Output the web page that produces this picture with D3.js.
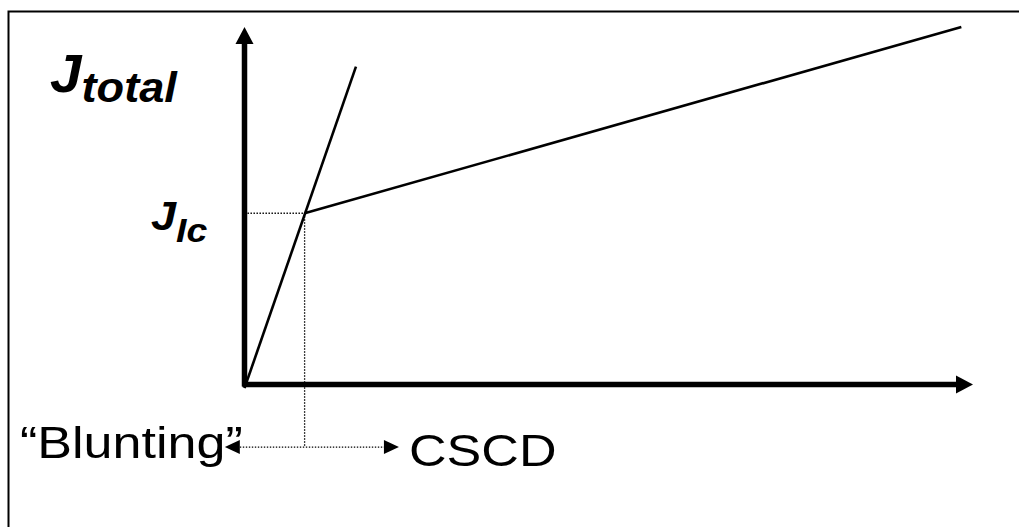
<!DOCTYPE html>
<html>
<head>
<meta charset="utf-8">
<script src="https://cdnjs.cloudflare.com/ajax/libs/d3/7.8.5/d3.min.js"></script>
<style>
  body { margin: 0; background: #fff; }
  svg { display: block; }
  text { font-family: "Liberation Sans", Arial, sans-serif; fill: #000; }
</style>
</head>
<body>
<div id="chart"></div>
<script>
// Schematic J-R curve: blunting line and crack growth line (arbitrary units 0..100)
var bluntingLine = [[0, -1], [15.3, 88.9]];
var jicPoint = [8.25, 47.9];
var growthLine = [[8.25, 47.9], [98.4, 100]];
var arrowRowY = -17.5;            // level of the "Blunting" <-> CSCD arrow
var arrowEnds = [-2.7, 21.2];     // left tip, right tip
var labels = {yMain: "J", ySub: "total", jicMain: "J", jicSub: "Ic", left: "\u201CBlunting\u201D", right: "CSCD"};

var width = 1019, height = 527;

var svg = d3.select("#chart")
    .append("svg")
    .attr("width", width)
    .attr("height", height);

// scales
var x = d3.scaleLinear().domain([0, 100]).range([244.5, 973]);
var y = d3.scaleLinear().domain([0, 100]).range([384.5, 27]);

// frame (top + left only visible)
svg.append("path")
    .attr("d", "M8.5," + height + "V11.5H" + width)
    .attr("fill", "none")
    .attr("stroke", "#000")
    .attr("stroke-width", 2);

// axes with arrow heads
var axisW = 5.5, headLen = 17, headHalf = 9;
svg.append("line")
    .attr("x1", x(0)).attr("y1", y(0) + 2)
    .attr("x2", x(0)).attr("y2", y(100) + headLen - 1)
    .attr("stroke", "#000").attr("stroke-width", axisW);
svg.append("path")
    .attr("d", "M" + x(0) + "," + y(100) + "L" + (x(0) - headHalf) + "," + (y(100) + headLen) +
        "L" + (x(0) + headHalf) + "," + (y(100) + headLen) + "Z")
    .attr("fill", "#000");

svg.append("line")
    .attr("x1", x(0) - 2).attr("y1", y(0))
    .attr("x2", x(100) - headLen + 1).attr("y2", y(0))
    .attr("stroke", "#000").attr("stroke-width", axisW);
svg.append("path")
    .attr("d", "M" + x(100) + "," + y(0) + "L" + (x(100) - headLen) + "," + (y(0) - headHalf) +
        "L" + (x(100) - headLen) + "," + (y(0) + headHalf) + "Z")
    .attr("fill", "#000");

// dotted guides
var dot = {"stroke": "#000", "stroke-width": 1.3, "stroke-dasharray": "1.4,1.6"};
function dotted(x1, y1, x2, y2) {
    var l = svg.append("line")
        .attr("x1", x1).attr("y1", y1).attr("x2", x2).attr("y2", y2);
    Object.keys(dot).forEach(function (k) { l.attr(k, dot[k]); });
    return l;
}
dotted(x(0) + 3, y(jicPoint[1]), x(jicPoint[0]), y(jicPoint[1]));
dotted(x(jicPoint[0]), y(jicPoint[1]), x(jicPoint[0]), y(arrowRowY));
dotted(x(arrowEnds[0]) + 12, y(arrowRowY), x(arrowEnds[1]) - 14, y(arrowRowY));

// small arrow heads on the dotted arrow
var sHead = 15, sHalf = 7;
svg.append("path")
    .attr("d", "M" + x(arrowEnds[0]) + "," + y(arrowRowY) + "l" + sHead + "," + (-sHalf) + "v" + (2 * sHalf) + "Z")
    .attr("fill", "#000");
svg.append("path")
    .attr("d", "M" + x(arrowEnds[1]) + "," + y(arrowRowY) + "l" + (-sHead) + "," + (-sHalf) + "v" + (2 * sHalf) + "Z")
    .attr("fill", "#000");

// data lines
var line = d3.line().x(d => x(d[0])).y(d => y(d[1]));
svg.append("path")
    .datum(bluntingLine)
    .attr("d", line)
    .attr("fill", "none").attr("stroke", "#000").attr("stroke-width", 2.6);
svg.append("path")
    .datum(growthLine)
    .attr("d", line)
    .attr("fill", "none").attr("stroke", "#000").attr("stroke-width", 2.6);

// labels
var yLab = svg.append("text")
    .attr("transform", "translate(50,92) scale(1.05,1)")
    .attr("font-weight", "bold").attr("font-style", "italic");
yLab.append("tspan").attr("font-size", 54).text(labels.yMain);
yLab.append("tspan").attr("font-size", 43).attr("dy", 10).text(labels.ySub);

var jLab = svg.append("text")
    .attr("transform", "translate(151,230) scale(1.1,1)")
    .attr("font-weight", "bold").attr("font-style", "italic");
jLab.append("tspan").attr("font-size", 41).text(labels.jicMain);
jLab.append("tspan").attr("font-size", 34).attr("dy", 12).text(labels.jicSub);

svg.append("text")
    .attr("transform", "translate(20,457.5) scale(1.17,1)")
    .attr("font-size", 44.5)
    .text(labels.left);

svg.append("text")
    .attr("transform", "translate(409,466) scale(1.17,1)")
    .attr("font-size", 44.5)
    .text(labels.right);
</script>
</body>
</html>
